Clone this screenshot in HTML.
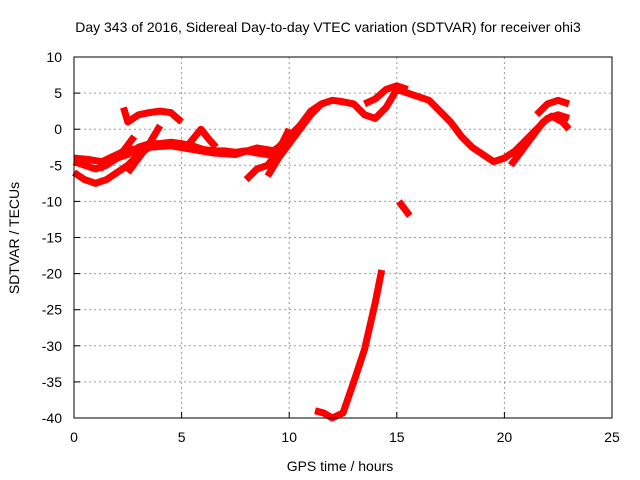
<!DOCTYPE html>
<html><head><meta charset="utf-8"><style>
body{margin:0;background:#fff}
svg{display:block;font-family:"Liberation Sans",sans-serif;font-size:14px}
</style></head><body>
<svg id="c" width="640" height="480">
<text x="328" y="32" text-anchor="middle">Day 343 of 2016, Sidereal Day-to-day VTEC variation (SDTVAR) for receiver ohi3</text>
<text x="340" y="471" text-anchor="middle">GPS time / hours</text>
<text transform="translate(19,238) rotate(-90)" text-anchor="middle">SDTVAR / TECUs</text>
<g id="grid"></g><g id="ticks"></g><g id="series"></g>
<rect x="74" y="57" width="538" height="361" fill="none" stroke="#000" stroke-width="1"/>
</svg>
<script>
const xTicks=[0,5,10,15,20,25];
const yTicks=[10,5,0,-5,-10,-15,-20,-25,-30,-35,-40];
const traceMain=[[0,-4.5],[0.5,-5],[1,-5.5],[1.5,-5],[2,-4],[2.5,-3.5],[3,-2.5],[3.5,-2],[4,-2],[4.5,-1.8],[5,-2],[5.5,-2.3],[6,-2.8],[6.5,-3],[7,-3],[7.5,-3.2],[8,-3],[8.5,-3.3],[9,-3.5],[9.5,-2.5],[10,-1],[10.5,0.5],[11,2.5],[11.5,3.5],[12,4],[12.5,3.8],[13,3.5],[13.5,2],[14,1.5],[14.5,3],[15,5.5],[15.5,5],[16,4.5],[16.5,4],[17,2.5],[17.5,1],[18,-1],[18.5,-2.5],[19,-3.5],[19.5,-4.5],[20,-4],[20.5,-3],[21,-1.5],[21.5,0],[22,1.5],[22.5,2],[23,1.5]];
const traceMid=[[0,-4],[0.7,-4.2],[1.3,-4.5],[2,-3.5],[2.7,-2.8],[3.5,-2.5],[4.5,-2.3],[5.5,-2.8],[6.5,-3.3],[7.5,-3.5],[8.5,-2.6],[9.3,-3]];
const traceSpike=[[5.3,-2.2],[5.9,0],[6.3,-1.5],[6.6,-2.5]];
const traceUpperLeft=[[2.3,3],[2.5,1],[3,2],[3.5,2.3],[4,2.5],[4.5,2.3],[5,1]];
const traceUpperMid=[[13.5,3.5],[14,4.2],[14.5,5.5],[15,6],[15.5,5.5]];
const traceUpperRight=[[21.5,2],[22,3.5],[22.5,4],[23,3.5]];
const traceLowerLeft=[[0,-6],[0.5,-7],[1,-7.5],[1.5,-7],[2,-6],[2.5,-5],[3,-3.5],[3.5,-2.5]];
const traceRiseA=[[2.5,-6],[3,-4],[3.5,-2],[4,0.5]];
const traceRiseE=[[1.2,-5.5],[1.8,-4],[2.3,-3],[2.8,-1]];
const traceRiseB=[[8,-7],[8.5,-5.5],[9,-5],[9.5,-3],[10,0]];
const traceRiseC=[[9,-6.5],[9.5,-4],[10,-2],[10.5,0],[11,2],[11.5,3.5]];
const traceRiseD=[[20.3,-5],[20.8,-3],[21.3,-1],[21.8,1],[22.2,1.8],[22.7,1],[23,0]];
const traceIsolated=[[15.1,-10],[15.6,-12]];
const tracePlunge=[[11.2,-39],[11.6,-39.3],[12,-40],[12.5,-39.3],[13,-35],[13.5,-30.5],[14,-24],[14.3,-19.5]];
const X=v=>74+v*538/25, Y=v=>57+(10-v)*361/50;
const ns="http://www.w3.org/2000/svg";
const grid=document.getElementById('grid'),ticks=document.getElementById('ticks'),ser=document.getElementById('series');
function mk(t,a,p){const e=document.createElementNS(ns,t);for(const k in a)e.setAttribute(k,a[k]);p.appendChild(e);return e;}
xTicks.forEach(v=>{
 if(v>0&&v<25){const g=mk('line',{x1:X(v),x2:X(v),y1:57,y2:418,stroke:'#999','stroke-dasharray':'2,3'},grid);
 
 }
 const t=mk('text',{x:X(v),y:442,'text-anchor':'middle'},ticks);t.textContent=v;
 
 
 mk('line',{x1:X(v),x2:X(v),y1:418,y2:412,stroke:'#000'},ticks);
});
yTicks.forEach(v=>{
 if(v<10&&v>-40){const g=mk('line',{x1:74,x2:612,y1:Y(v),y2:Y(v),stroke:'#999','stroke-dasharray':'2,3'},grid);
 
 }
 const t=mk('text',{x:62,y:Y(v)+5,'text-anchor':'end'},ticks);t.textContent=v;
 
 
 mk('line',{x1:74,x2:80,y1:Y(v),y2:Y(v),stroke:'#000'},ticks);
});
[traceMain,traceMid,traceSpike,traceUpperLeft,traceUpperMid,traceUpperRight,traceLowerLeft,traceRiseA,traceRiseE,traceRiseB,traceRiseC,traceRiseD,traceIsolated,tracePlunge].forEach(tr=>{
 const p=mk('polyline',{points:tr.map(d=>X(d[0])+','+Y(d[1])).join(' '),fill:'none',stroke:'#f00','stroke-width':7,'stroke-linejoin':'round'},ser);
 
 
});
</script>
</body></html>
